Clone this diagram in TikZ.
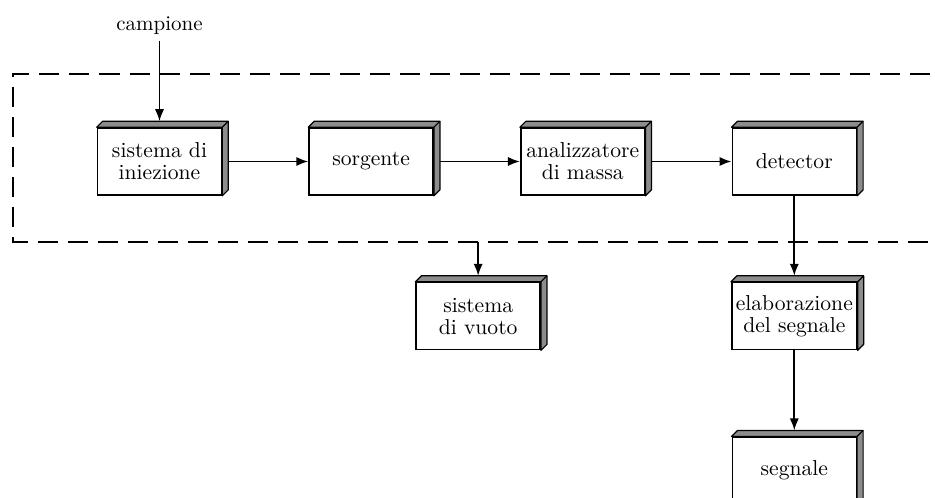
\documentclass[tikz,border=0pt]{standalone}
\usetikzlibrary{arrows.meta,positioning}
\tikzset{
  >={Latex[length=6pt,width=4.6pt]},
  box/.style={
    draw, fill=white, rectangle, align=center, line width=0.8pt,
    minimum width=62pt, minimum height=33.5pt, inner sep=2pt,
    font=\fontsize{10.8}{11}\selectfont
  },
  face/.style={draw, fill=black!45, line width=0.6pt, line join=round},
  flow/.style={->, line width=0.85pt},
  frame/.style={dash pattern=on 10pt off 5pt, line width=0.9pt},
}

\begin{document}
\begin{tikzpicture}[node distance=43pt]
  \useasboundingbox (-79.75pt,80.75pt) rectangle (387.75pt,-167.75pt);

  % upper row, inside the dashed frame
  \node[box] (inj) at (0,0) {sistema di\\iniezione};
  \node[box, right=of inj] (src) {sorgente};
  \node[box, right=of src] (ana) {analizzatore\\di massa};
  \node[box, right=of ana] (det) {detector};

  % lower blocks
  \node[box, below=of det] (ela) {elaborazione\\del segnale};
  \node[box, below=of ela] (seg) {segnale};
  \node[box, left=95pt of ela] (vuo) {sistema\\di vuoto};

  \node[above=of inj, font=\fontsize{10.5}{11}\selectfont] (cam) {campione};

  % dashed frame, open on the right
  \coordinate (fnw) at ([shift={(-42pt,26.5pt)}]inj.north west);
  \coordinate (fsw) at ([shift={(-42pt,-23pt)}]inj.south west);
  \coordinate (fend) at (400pt,0);
  \draw[frame] (fnw -| fend) -- (fnw) -- (fsw) -- (fsw -| fend);

  % shaded top and side faces
  \foreach \n in {inj,src,ana,det,vuo,ela,seg} {
    \filldraw[face] (\n.north west) -- ++(3pt,3pt)
      -| ([shift={(3pt,3pt)}]\n.south east) -- (\n.south east)
      -- (\n.north east) -- cycle;
    \draw[line width=0.6pt] (\n.north east) -- ++(3pt,3pt);
  }

  \draw[flow] (cam) -- ([yshift=3pt]inj.north);
  \draw[flow] ([xshift=3pt]inj.east) -- (src.west);
  \draw[flow] ([xshift=3pt]src.east) -- (ana.west);
  \draw[flow] ([xshift=3pt]ana.east) -- (det.west);
  \draw[flow] (det.south) -- ([yshift=3pt]ela.north);
  \draw[flow] (ela.south) -- ([yshift=3pt]seg.north);
  \draw[flow] (fsw -| vuo.north) -- ([yshift=3pt]vuo.north);
\end{tikzpicture}
\end{document}
